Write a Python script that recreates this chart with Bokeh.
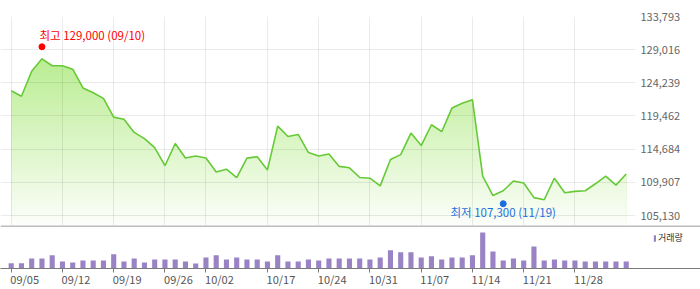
import numpy as np
from bokeh.plotting import figure
from bokeh.models import (Range1d, FixedTicker, NumeralTickFormatter, Span, Legend,
                          LegendItem, ColumnDataSource)
from bokeh.core.properties import value
from bokeh.transform import dodge
from bokeh.embed import file_html
from bokeh.resources import INLINE

# ---------------- data ----------------
dates = ["09/05", "09/08", "09/09", "09/10", "09/11", "09/12", "09/15", "09/16", "09/17", "09/18",
         "09/19", "09/22", "09/23", "09/24", "09/25", "09/26", "09/29", "09/30", "10/01", "10/02",
         "10/10", "10/13", "10/14", "10/15", "10/16", "10/17", "10/20", "10/21", "10/22", "10/23",
         "10/24", "10/27", "10/28", "10/29", "10/30", "10/31", "11/03", "11/04", "11/05", "11/06",
         "11/07", "11/10", "11/11", "11/12", "11/13", "11/14", "11/17", "11/18", "11/19", "11/20",
         "11/21", "11/24", "11/25", "11/26", "11/27", "11/28", "12/01", "12/02", "12/03", "12/04",
         "12/05"]

close = [123100, 122300, 125900, 127700, 126700, 126700, 126200, 123500, 122800, 122000,
         119300, 119000, 117100, 116200, 114900, 112300, 115500, 113400, 113700, 113400,
         111400, 111800, 110600, 113400, 113600, 111700, 118000, 116500, 116800, 114200,
         113700, 114000, 112200, 112000, 110600, 110500, 109400, 113200, 113900, 117000,
         115200, 118200, 117200, 120600, 121300, 121800, 110800, 108000, 108700, 110100,
         109800, 107700, 107400, 110500, 108400, 108600, 108700, 109700, 110800, 109500,
         111100]

# volume, thousand shares
volume = [530, 530, 1000, 1000, 1330, 700, 600, 800, 800, 800,
          1430, 700, 1000, 600, 900, 900, 900, 700, 500, 1100,
          1330, 900, 1100, 900, 900, 700, 1330, 700, 700, 900,
          800, 1000, 1000, 1000, 1000, 900, 1100, 1830, 1630, 1630,
          1100, 1230, 900, 1100, 1100, 1330, 3600, 1700, 800, 1000,
          800, 2200, 800, 900, 800, 800, 700, 700, 700, 700,
          700]

tick_dates = ["09/05", "09/12", "09/19", "09/26", "10/02", "10/17", "10/24", "10/31",
              "11/07", "11/14", "11/21", "11/28"]
price_ticks = [105130, 109907, 114684, 119462, 124239, 129016, 133793]

high_date, high_value = "09/10", 129000
low_date, low_value = "11/19", 107300
volume_label = "거래량"

# ---------------- layout constants ----------------
FONT = "Noto Sans CJK KR"
PX_PER_DAY = 10.25
X0 = -1.044
PRICE_FRAME_W = 635
PRICE_FRAME_H = 209
PY_PER_PX = (price_ticks[-1] - price_ticks[0]) / 199.0
VOL_FRAME_H = 43
VOL_PER_PX = 100.0

idx = list(range(len(dates)))
tick_idx = [dates.index(d) for d in tick_dates]

x_price = Range1d(X0, X0 + PRICE_FRAME_W / PX_PER_DAY)
x_vol = Range1d(X0, X0 + 700 / PX_PER_DAY)
y_top = price_ticks[-1]
y_price = Range1d(y_top - PRICE_FRAME_H * PY_PER_PX, y_top)
y_vol = Range1d(0, VOL_FRAME_H * VOL_PER_PX)

# ---------------- price chart ----------------
p = figure(width=700, height=225, x_range=x_price, y_range=y_price,
           output_backend="svg", toolbar_location=None,
           x_axis_location=None, y_axis_location="right",
           min_border_left=0, min_border_right=65, min_border_top=16, min_border_bottom=0)
p.outline_line_color = None
p.background_fill_color = "white"
p.border_fill_color = "white"

# gradient fill under the line: stacked bands + white mask above the line
n_bands = 80
y_lo = y_price.start
y_hi = max(close)
edges = np.linspace(y_lo, y_hi, n_bands + 1)
c_top = np.array([186, 237, 146])
c_bot = np.array([252, 254, 250])
tops, cols = [], []
for k in range(n_bands - 1, -1, -1):
    frac = (edges[k] + edges[k + 1]) / 2.0
    frac = (frac - y_lo) / (y_hi - y_lo)
    c = (c_bot + (c_top - c_bot) * frac).round().astype(int)
    tops.append(edges[k + 1])
    cols.append("#%02x%02x%02x" % tuple(c))
p.quad(left=idx[0], right=idx[-1], bottom=y_lo, top=tops, fill_color=cols,
       line_color=None, level="image")
# mask continues flat past both ends so no sliver of the gradient shows at the edges
mask_x = [x_price.start] + idx + [x_price.end]
mask_y = [close[0]] + close + [close[-1]]
p.varea(x=mask_x, y1=mask_y, y2=y_top + 10 * PY_PER_PX, fill_color="white", level="image")

p.line(idx, close, line_color="#66c936", line_width=1.6)

p.xgrid.ticker = FixedTicker(ticks=tick_idx)
p.ygrid.ticker = FixedTicker(ticks=price_ticks)
p.grid.grid_line_color = "black"
p.grid.grid_line_alpha = 0.08

ya = p.yaxis[0]
ya.ticker = FixedTicker(ticks=price_ticks)
ya.formatter = NumeralTickFormatter(format="0,0")
ya.axis_line_color = None
ya.major_tick_line_color = None
ya.minor_tick_line_color = None
ya.major_tick_out = 0
ya.major_label_standoff = 5
ya.major_label_text_font = FONT
ya.major_label_text_font_size = "11px"
ya.major_label_text_color = "#666666"

# high / low annotations
hi_src = ColumnDataSource(dict(x=[dates.index(high_date)], y=[high_value],
                               t=[f"최고 {high_value:,} ({high_date})"]))
lo_src = ColumnDataSource(dict(x=[dates.index(low_date)], y=[low_value],
                               t=[f"최저 {low_value:,} ({low_date})"]))
p.scatter(x="x", y=dodge("y", 3 * PY_PER_PX, range=p.y_range), source=hi_src,
          size=6, fill_color="#ff0000", line_color="#ff0000")
p.text(x="x", y="y", text="t", source=hi_src, x_offset=-2.5, y_offset=-15,
       text_align="left", text_baseline="middle", text_color="#ff0000",
       text_font=value(FONT), text_font_size="11.5px")
p.scatter(x="x", y=dodge("y", -3.3 * PY_PER_PX, range=p.y_range), source=lo_src,
          size=6, fill_color="#1b6fdc", line_color="#1b6fdc")
p.text(x="x", y="y", text="t", source=lo_src, x_offset=0, y_offset=12,
       text_align="center", text_baseline="middle", text_color="#1b6fdc",
       text_font=value(FONT), text_font_size="11.5px")

# ---------------- volume chart ----------------
v = figure(width=700, height=64, x_range=x_vol, y_range=y_vol,
           output_backend="svg", toolbar_location=None, y_axis_location=None,
           min_border_left=0, min_border_right=0, min_border_top=0, min_border_bottom=21)
v.outline_line_color = None
v.grid.visible = False
v.background_fill_color = "white"
v.border_fill_color = "white"

vb = v.vbar(x=idx, top=volume, bottom=0, width=0.5, fill_color="#9a83c5", line_color=None)

v.add_layout(Span(location=y_vol.end - 0.5 * VOL_PER_PX, dimension="width",
                  line_color="#7a7a7a", line_width=1))

label_shift = 13.5 / PX_PER_DAY
label_pos = [i + label_shift for i in tick_idx]
xa = v.xaxis[0]
xa.ticker = FixedTicker(ticks=label_pos, minor_ticks=tick_idx)
xa.major_label_overrides = {pos: d for pos, d in zip(label_pos, tick_dates)}
xa.axis_line_color = "#7a7a7a"
xa.major_tick_line_color = None
xa.major_tick_out = 0
xa.major_tick_in = 0
xa.minor_tick_line_color = "#7a7a7a"
xa.minor_tick_out = 4
xa.minor_tick_in = 0
xa.major_label_standoff = -2
xa.major_label_text_font = FONT
xa.major_label_text_font_size = "11px"
xa.major_label_text_color = "#555555"

legend = Legend(items=[LegendItem(label=value(volume_label), renderers=[vb])],
                location=(653, 24), padding=0, margin=0, spacing=0,
                border_line_color=None, background_fill_alpha=0,
                glyph_width=3, glyph_height=8, label_standoff=2, label_height=8,
                label_text_font=FONT, label_text_font_size="9px",
                label_text_color="#333333", label_text_baseline="middle")
v.add_layout(legend)

open("out.html", "w").write(file_html([p, v], INLINE))
